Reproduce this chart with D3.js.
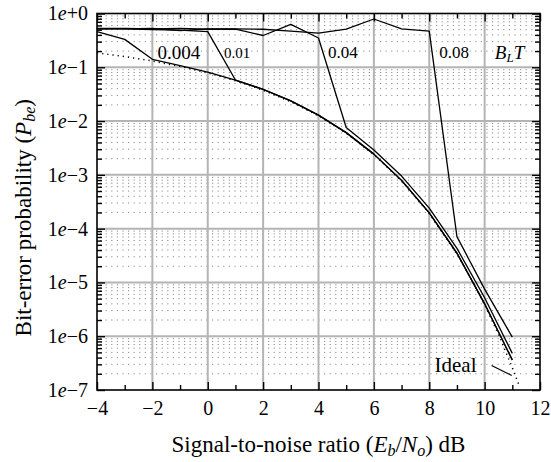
<!DOCTYPE html>
<html>
<head>
<meta charset="utf-8">
<script src="https://cdn.jsdelivr.net/npm/d3@7/dist/d3.min.js"></script>
<style>
  body { margin: 0; background: #fff; }
</style>
</head>
<body>
<svg id="chart" width="551" height="462"></svg>
<script>
// Eb/No sample points (dB)
const snrDb = [-4, -3, -2, -1, 0, 1, 2, 3, 4, 5, 6, 7, 8, 9, 10, 11];

// Measured bit-error probability for each loop bandwidth B_L T
const ber004 = [0.46, 0.33, 0.141, 0.107, 0.081, 0.058, 0.0388, 0.0237, 0.0129, 0.0061, 0.00243, 7.9e-4, 1.97e-4, 3.5e-5, 4.0e-6, 3.6e-7];
const ber01  = [0.52, 0.52, 0.50, 0.49, 0.46, 0.058, 0.0388, 0.0237, 0.0129, 0.0061, 0.00243, 7.9e-4, 1.97e-4, 3.5e-5, 4.0e-6, 3.6e-7];
const ber04  = [0.53, 0.53, 0.52, 0.53, 0.51, 0.51, 0.39, 0.63, 0.35, 0.0076, 0.0029, 9.5e-4, 2.4e-4, 4.3e-5, 5.2e-6, 4.8e-7];
const ber08  = [0.52, 0.52, 0.53, 0.48, 0.52, 0.52, 0.51, 0.47, 0.43, 0.51, 0.79, 0.52, 0.47, 7.1e-5, 7.5e-6, 9.6e-7];

// Ideal (coherent) reference curve
const idealDb  = [-4, -3, -2, -1, 0, 1, 2, 3, 4, 5, 6, 7, 8, 9, 9.5, 10, 10.5, 11, 11.25];
const idealBer = [0.186, 0.158, 0.131, 0.104, 0.0786, 0.0563, 0.0375, 0.0229, 0.0125, 0.00595, 0.00239, 7.7e-4, 1.91e-4, 3.36e-5, 1.21e-5, 3.87e-6, 1.08e-6, 2.6e-7, 1.2e-7];

// Curve labels
const curveLabels = ["0.004", "0.01", "0.04", "0.08"];
const labelDb   = [-1.04, 1.06, 4.88, 8.9];
const labelBer  = [0.19, 0.185, 0.185, 0.185];
const labelSize = [19, 15, 17, 17];

// Axis ticks
const xMajor = [-4, -2, 0, 2, 4, 6, 8, 10, 12];
const yMajorExp = [0, -1, -2, -3, -4, -5, -6, -7];

const FONT = "'Liberation Serif', 'Times New Roman', Times, serif";
const svg = d3.select("#chart").attr("font-family", FONT);
const pL = 97, pR = 540, pT = 13.5, pB = 390;

const x = d3.scaleLinear().domain([-4, 12]).range([pL, pR]);
const y = d3.scaleLog().domain([1e-7, 1]).range([pB, pT]);

// minor grid positions (log sub-decades)
const yMinor = [];
for (let e = -7; e < 0; e++) for (let k = 2; k <= 9; k++) yMinor.push(k * Math.pow(10, e));
const yMajor = yMajorExp.map(e => Math.pow(10, e));
const xMinorTicks = d3.range(-3, 12, 2);

const grid = svg.append("g");
grid.selectAll("line.hminor").data(yMinor).join("line")
  .attr("x1", pL + 3).attr("x2", pR).attr("y1", d => y(d)).attr("y2", d => y(d))
  .attr("stroke", "#8c8c8c").attr("stroke-width", 1).attr("stroke-dasharray", "1.2,4.4");
grid.selectAll("line.vmajor").data(xMajor.slice(1, -1)).join("line")
  .attr("x1", d => x(d)).attr("x2", d => x(d)).attr("y1", pT).attr("y2", pB)
  .attr("stroke", "#b4b4b4").attr("stroke-width", 2);
grid.selectAll("line.hmajor").data(yMajor.slice(1, -1)).join("line")
  .attr("x1", pL).attr("x2", pR).attr("y1", d => y(d)).attr("y2", d => y(d))
  .attr("stroke", "#b4b4b4").attr("stroke-width", 2);

// Curves
const line = d3.line().x(d => x(d[0])).y(d => y(d[1]));
svg.append("path").datum(idealDb.map((d, i) => [d, idealBer[i]]))
  .attr("d", line).attr("fill", "none").attr("stroke", "#000")
  .attr("stroke-width", 1.5).attr("stroke-dasharray", "1.2,4");
[ber004, ber01, ber04, ber08].forEach(series => {
  svg.append("path").datum(snrDb.map((d, i) => [d, series[i]]))
    .attr("d", line).attr("fill", "none").attr("stroke", "#000")
    .attr("stroke-width", 1.3).attr("stroke-linejoin", "round");
});

// Axes with inward ticks
function styleAxis(g) {
  g.attr("font-family", FONT);
  g.select(".domain").remove();
  g.selectAll(".tick line").attr("stroke", "#000").attr("stroke-width", 1.4);
}
const axB = svg.append("g").attr("transform", `translate(0,${pB})`)
  .call(d3.axisBottom(x).tickValues(xMajor).tickSize(-8).tickPadding(11)
    .tickFormat(d => (d < 0 ? "\u2212" + Math.abs(d) : String(d))));
styleAxis(axB);
axB.selectAll("text").attr("font-size", 20).attr("fill", "#000");
svg.append("g").attr("transform", `translate(0,${pB})`)
  .call(d3.axisBottom(x).tickValues(xMinorTicks).tickSize(-5).tickFormat(""))
  .call(styleAxis);
svg.append("g").attr("transform", `translate(0,${pT})`)
  .call(d3.axisTop(x).tickValues(xMajor).tickSize(-8).tickFormat(""))
  .call(styleAxis);
svg.append("g").attr("transform", `translate(0,${pT})`)
  .call(d3.axisTop(x).tickValues(xMinorTicks).tickSize(-5).tickFormat(""))
  .call(styleAxis);

const axL = svg.append("g").attr("transform", `translate(${pL},0)`)
  .call(d3.axisLeft(y).tickValues(yMajor).tickSize(-8).tickPadding(9).tickFormat(() => ""));
styleAxis(axL);
axL.selectAll(".tick text").each(function (d) {
  const e = Math.round(Math.log10(d));
  const t = d3.select(this).attr("font-size", 20).attr("fill", "#000");
  t.append("tspan").text("1");
  t.append("tspan").attr("font-style", "italic").text("e");
  t.append("tspan").text(e === 0 ? "+0" : "\u2212" + Math.abs(e));
});
svg.append("g").attr("transform", `translate(${pL},0)`)
  .call(d3.axisLeft(y).tickValues(yMinor).tickSize(-5).tickFormat(""))
  .call(styleAxis);
svg.append("g").attr("transform", `translate(${pR},0)`)
  .call(d3.axisRight(y).tickValues(yMajor).tickSize(-8).tickFormat(""))
  .call(styleAxis);
svg.append("g").attr("transform", `translate(${pR},0)`)
  .call(d3.axisRight(y).tickValues(yMinor).tickSize(-5).tickFormat(""))
  .call(styleAxis);

// Frame
svg.append("rect").attr("x", pL).attr("y", pT)
  .attr("width", pR - pL).attr("height", pB - pT)
  .attr("fill", "none").attr("stroke", "#000").attr("stroke-width", 1.6);

// Curve labels
svg.selectAll("text.curve").data(curveLabels).join("text")
  .attr("class", "curve")
  .attr("x", (d, i) => x(labelDb[i])).attr("y", (d, i) => y(labelBer[i]))
  .attr("text-anchor", "middle").attr("dominant-baseline", "central")
  .attr("font-size", (d, i) => labelSize[i]).text(d => d);

const blt = svg.append("text").attr("x", x(10.9)).attr("y", y(0.19))
  .attr("text-anchor", "middle").attr("dominant-baseline", "central")
  .attr("font-size", 19).attr("font-style", "italic");
blt.append("tspan").text("B");
blt.append("tspan").attr("font-size", 13).attr("dy", 5).text("L");
blt.append("tspan").attr("dy", -5).text("T");

// Ideal label with pointer
svg.append("text").attr("x", x(8.19)).attr("y", y(2.2e-7))
  .attr("font-size", 21).text("Ideal");
svg.append("line")
  .attr("x1", x(10.25)).attr("y1", y(2.85e-7))
  .attr("x2", x(10.98)).attr("y2", y(1.86e-7))
  .attr("stroke", "#000").attr("stroke-width", 1.2);

// Axis titles
const xt = svg.append("text").attr("x", (pL + pR) / 2).attr("y", 452)
  .attr("text-anchor", "middle").attr("font-size", 23);
xt.append("tspan").text("Signal-to-noise ratio (");
xt.append("tspan").attr("font-style", "italic").text("E");
xt.append("tspan").attr("font-style", "italic").attr("font-size", 16).attr("dy", 4).text("b");
xt.append("tspan").attr("dy", -4).text("/");
xt.append("tspan").attr("font-style", "italic").text("N");
xt.append("tspan").attr("font-style", "italic").attr("font-size", 16).attr("dy", 4).text("o");
xt.append("tspan").attr("dy", -4).text(") dB");

const yt = svg.append("text")
  .attr("transform", `translate(31,${(pT + pB) / 2 + 16}) rotate(-90)`)
  .attr("text-anchor", "middle").attr("font-size", 23);
yt.append("tspan").text("Bit-error probability (");
yt.append("tspan").attr("font-style", "italic").text("P");
yt.append("tspan").attr("font-style", "italic").attr("font-size", 16).attr("dy", 4).text("be");
yt.append("tspan").attr("dy", -4).text(")");
</script>
</body>
</html>
